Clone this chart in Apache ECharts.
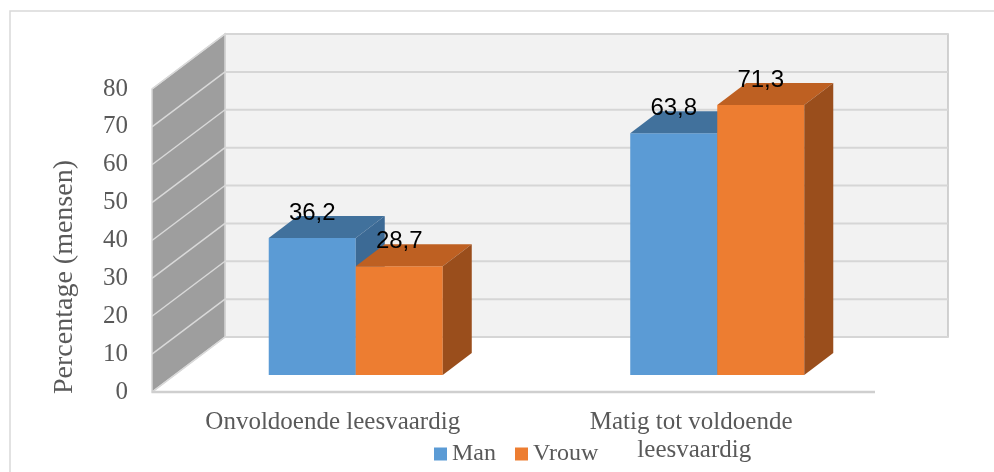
<!DOCTYPE html>
<html>
<head>
<meta charset="utf-8">
<script src="https://cdn.jsdelivr.net/npm/echarts/dist/echarts.min.js"></script>
<style>
html,body{margin:0;padding:0;background:#fff;}
#chart{width:994px;height:472px;}
</style>
</head>
<body>
<div id="chart"></div>
<script>
// ---- data ----
const categories = ['Onvoldoende leesvaardig', 'Matig tot voldoende leesvaardig'];
const seriesNames = ['Man', 'Vrouw'];
const manValues = [36.2, 63.8];
const vrouwValues = [28.7, 71.3];
const yTicks = [0, 10, 20, 30, 40, 50, 60, 70, 80];
const yAxisTitle = 'Percentage (mensen)';

// ---- style constants ----
const Y_MIN = 0, Y_MAX = 80, Y_STEP = 10;
const WALL_DX = 73, WALL_DY = -55;      // depth of the 3D box
const BAR_SHIFT_X = 23, BAR_SHIFT_Y = -17; // bar front plane offset
const BAR_DX = 29, BAR_DY = -22;        // bar depth
const BAR_FRAC = 0.2407;                // bar width / category band
const SERIF = '"Liberation Serif", "DejaVu Serif", serif';
const SANS = '"Liberation Sans", Arial, sans-serif';
const TEXT_GREY = '#595959';
const palettes = [
  { front: '#5B9BD5', top: '#41719C', side: '#3C6A95' },
  { front: '#ED7D31', top: '#BE6022', side: '#9A4E1C' }
];

function fmt(v) { return String(v).replace('.', ','); }

function renderWalls(params, api) {
  const cs = params.coordSys;
  const L = cs.x, R = cs.x + cs.width;
  const yB = api.coord([0, Y_MIN])[1];
  const yT = api.coord([0, Y_MAX])[1];
  const dx = WALL_DX, dy = WALL_DY;
  const children = [];
  children.push({ type: 'polygon', shape: { points: [[L, yB], [R, yB], [R + dx, yB + dy], [L + dx, yB + dy]] },
    style: { fill: '#FFFFFF' } });
  children.push({ type: 'polygon', shape: { points: [[L + dx, yT + dy], [R + dx, yT + dy], [R + dx, yB + dy], [L + dx, yB + dy]] },
    style: { fill: '#F2F2F2', stroke: '#C4C4C4', lineWidth: 1.5 } });
  children.push({ type: 'polygon', shape: { points: [[L, yB], [L, yT], [L + dx, yT + dy], [L + dx, yB + dy]] },
    style: { fill: '#9E9E9E', stroke: '#D6D6D6', lineWidth: 1.5 } });
  yTicks.forEach(function (v) {
    const y = api.coord([0, v])[1];
    children.push({ type: 'line', shape: { x1: L + dx, y1: y + dy, x2: R + dx, y2: y + dy },
      style: { stroke: '#D6D6D6', lineWidth: 2 } });
    children.push({ type: 'line', shape: { x1: L, y1: y, x2: L + dx, y2: y + dy },
      style: { stroke: '#D9D9D9', lineWidth: 1.5 } });
  });
  children.push({ type: 'line', shape: { x1: L, y1: yB, x2: R, y2: yB },
    style: { stroke: '#CFCFCF', lineWidth: 2.5 } });
  return { type: 'group', children: children };
}

function makeBarRender(idx) {
  const pal = palettes[idx];
  return function (params, api) {
    const cat = api.value(0), val = api.value(1);
    const p = api.coord([cat, val]);
    const p0 = api.coord([cat, 0]);
    const band = api.size([1, 0])[0];
    const w = band * BAR_FRAC;
    const x0 = p[0] + BAR_SHIFT_X + (idx === 0 ? -w : 0);
    const x1 = x0 + w;
    const yT = p[1] + BAR_SHIFT_Y;
    const yB = p0[1] + BAR_SHIFT_Y;
    const dx = BAR_DX, dy = BAR_DY;
    return {
      type: 'group',
      children: [
        { type: 'polygon', shape: { points: [[x0, yT], [x1, yT], [x1, yB], [x0, yB]] }, style: { fill: pal.front } },
        { type: 'polygon', shape: { points: [[x0, yT], [x1, yT], [x1 + dx, yT + dy], [x0 + dx, yT + dy]] }, style: { fill: pal.top } },
        { type: 'polygon', shape: { points: [[x1, yT], [x1 + dx, yT + dy], [x1 + dx, yB + dy], [x1, yB]] }, style: { fill: pal.side } },
        { type: 'text', style: { text: fmt(val), x: (x0 + x1) / 2, y: yT - 25,
            textAlign: 'center', textVerticalAlign: 'middle', fill: '#000000',
            font: '24px ' + SANS } }
      ]
    };
  };
}

const chart = echarts.init(document.getElementById('chart'), null, { renderer: 'canvas' });
chart.setOption({
  backgroundColor: '#FFFFFF',
  animation: false,
  graphic: [
    { type: 'rect', shape: { x: 10, y: 11, width: 1200, height: 600 },
      style: { fill: 'none', stroke: '#D9D9D9', lineWidth: 1.5 }, silent: true, z: -10 },
    { type: 'text', x: 65, y: 277, rotation: Math.PI / 2, silent: true,
      style: { text: yAxisTitle, textAlign: 'center', textVerticalAlign: 'middle',
        font: '28px ' + SERIF, fill: TEXT_GREY } }
  ],
  grid: { left: 152, top: 89, width: 723, height: 303, containLabel: false },
  legend: {
    data: seriesNames,
    left: 434, top: 442, padding: 0,
    icon: 'rect', itemWidth: 13, itemHeight: 13, itemGap: 19,
    textStyle: { fontFamily: SERIF, fontSize: 24, color: TEXT_GREY }
  },
  xAxis: {
    type: 'category',
    data: categories,
    axisLine: { show: false },
    axisTick: { show: false },
    splitLine: { show: false },
    axisLabel: { margin: 16, fontFamily: SERIF, fontSize: 25, color: TEXT_GREY, lineHeight: 28,
      width: 300, overflow: 'break', interval: 0 }
  },
  yAxis: {
    type: 'value',
    min: Y_MIN, max: Y_MAX, interval: Y_STEP,
    axisLine: { show: false },
    axisTick: { show: false },
    splitLine: { show: false },
    axisLabel: { margin: 24, fontFamily: SERIF, fontSize: 25, color: TEXT_GREY }
  },
  series: [
    { type: 'custom', name: '_walls', silent: true, renderItem: renderWalls,
      data: [[0, 0]], encode: { x: 0, y: 1 }, z: 1 },
    { type: 'custom', name: seriesNames[0], renderItem: makeBarRender(0),
      itemStyle: { color: palettes[0].front },
      data: manValues.map(function (v, i) { return [i, v]; }), encode: { x: 0, y: 1 }, z: 2 },
    { type: 'custom', name: seriesNames[1], renderItem: makeBarRender(1),
      itemStyle: { color: palettes[1].front },
      data: vrouwValues.map(function (v, i) { return [i, v]; }), encode: { x: 0, y: 1 }, z: 3 }
  ]
});
</script>
</body>
</html>
